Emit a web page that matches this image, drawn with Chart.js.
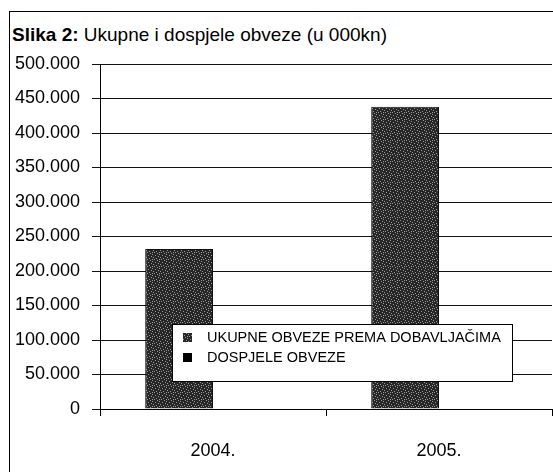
<!DOCTYPE html>
<html>
<head>
<meta charset="utf-8">
<script src="https://cdn.jsdelivr.net/npm/chart.js@4/dist/chart.umd.min.js"></script>
<style>
  body { margin: 0; width: 553px; height: 472px; overflow: hidden; background: #fff; position: relative; }
  #frame { position: absolute; left: 9px; top: 11px; width: 560px; height: 480px; border-left: 1px solid #000; border-top: 1px solid #000; }
  #title { position: absolute; left: 12px; top: 24px; font: 19px "Liberation Sans", Arial, sans-serif; color: #000; white-space: nowrap; }
  #chart { position: absolute; left: 0; top: 0; }
</style>
</head>
<body>
<div id="frame"></div>
<div id="title"><b>Slika 2:</b> Ukupne i dospjele obveze (u 000kn)</div>
<canvas id="chart" width="553" height="472"></canvas>
<script>
// podaci
const categories = ["2004.", "2005."];
const ukupneObveze = [232000, 438000];
const dospjeleObveze = [0, 0];
const seriesNames = ["UKUPNE OBVEZE PREMA DOBAVLJAČIMA", "DOSPJELE OBVEZE"];
const yMax = 500000;
const yStep = 50000;

// tockasta ispuna stupaca
function makePattern() {
  const c = document.createElement("canvas");
  c.width = 7;
  c.height = 7;
  const g = c.getContext("2d");
  g.fillStyle = "#262626";
  g.fillRect(0, 0, 7, 7);
  g.fillStyle = "#9a9a9a";
  const dots = [[0, 0], [3, 1], [5, 2], [1, 3], [4, 4], [6, 5], [2, 6], [5, 0]];
  dots.forEach(([i, j]) => g.fillRect(i, j, 1, 1));
  return g.createPattern(c, "repeat");
}

// format 500.000
function formatNum(v) {
  return String(v).replace(/\B(?=(\d{3})+(?!\d))/g, ".");
}

const barPattern = makePattern();

// legenda unutar grafikona
const boxLegend = {
  id: "boxLegend",
  afterDraw(chart) {
    const ctx = chart.ctx;
    const x = 172, y = 324, w = 340, h = 57;
    ctx.save();
    ctx.fillStyle = "#fff";
    ctx.fillRect(x, y, w, h);
    ctx.strokeStyle = "#000";
    ctx.lineWidth = 1;
    ctx.strokeRect(x + 0.5, y + 0.5, w, h);
    ctx.font = "14.5px 'Liberation Sans', Arial, sans-serif";
    ctx.textBaseline = "middle";
    chart.data.datasets.forEach((ds, i) => {
      const cy = y + 14 + i * 20;
      ctx.fillStyle = ds.backgroundColor;
      ctx.fillRect(x + 11, cy - 5, 9, 9);
      ctx.fillStyle = "#000";
      ctx.fillText(ds.label, x + 35, cy);
    });
    ctx.restore();
  },
};

new Chart(document.getElementById("chart"), {
  type: "bar",
  data: {
    labels: categories,
    datasets: [
      {
        label: seriesNames[0],
        data: ukupneObveze,
        backgroundColor: barPattern,
        borderColor: "#111",
        borderWidth: 1,
      },
      {
        label: seriesNames[1],
        data: dospjeleObveze,
        backgroundColor: "#000",
        borderWidth: 0,
      },
    ],
  },
  options: {
    responsive: false,
    animation: false,
    layout: { padding: { top: 64, right: 1, left: 0, bottom: 0 } },
    datasets: { bar: { categoryPercentage: 0.6, barPercentage: 1 } },
    plugins: {
      legend: { display: false },
      title: { display: false },
      tooltip: { enabled: false },
    },
    scales: {
      x: {
        grid: { display: true, drawOnChartArea: false, tickLength: 7, color: "#000" },
        border: { color: "#000", width: 1 },
        ticks: {
          color: "#000",
          padding: 24,
          font: { family: "'Liberation Sans', Arial, sans-serif", size: 18 },
        },
        afterFit(scale) {
          scale.height = 63;
        },
      },
      y: {
        min: 0,
        max: yMax,
        grid: { color: "#111", tickLength: 8 },
        border: { color: "#000", width: 1 },
        ticks: {
          stepSize: yStep,
          color: "#000",
          padding: 12,
          font: { family: "'Liberation Sans', Arial, sans-serif", size: 18 },
          callback: (v) => formatNum(v),
        },
        afterFit(scale) {
          scale.width = 100;
        },
      },
    },
  },
  plugins: [boxLegend],
});
</script>
</body>
</html>
